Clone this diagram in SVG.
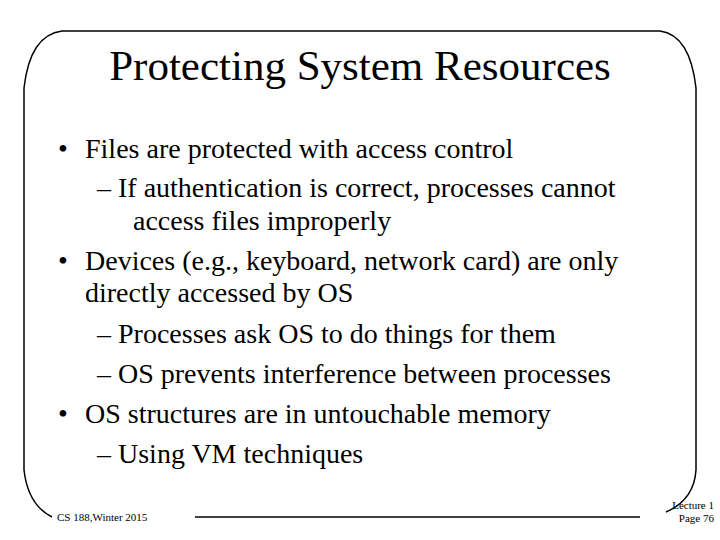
<svg xmlns="http://www.w3.org/2000/svg" width="720" height="540" viewBox="0 0 720 540">
<style>
.b{font-size:28px}
.f{font-size:11px}
</style>
<rect width="720" height="540" fill="#fff"/>
<g fill="none" stroke="#000" stroke-width="1.5">
<path d="M24,470 L24,88 Q30,35 62,31 L660,31 Q690,35 696,88 L696,470 Q694,500 666,512"/>
<path d="M24,470 Q28,505 52,517"/>
<path d="M195,517 L640,517"/>
</g>
<g font-family="Liberation Serif, Times New Roman, DejaVu Serif, serif" fill="#000">
<text x="360" y="80" font-size="43" text-anchor="middle">Protecting System Resources</text>
<g class="b">
<text x="58" y="158">•</text><text x="85" y="158">Files are protected with access control</text>
<text x="97" y="197">– If authentication is correct, processes cannot</text>
<text x="133" y="230">access files improperly</text>
<text x="58" y="270">•</text><text x="85" y="270">Devices (e.g., keyboard, network card) are only</text>
<text x="85" y="302">directly accessed by OS</text>
<text x="97" y="343">– Processes ask OS to do things for them</text>
<text x="97" y="383">– OS prevents interference between processes</text>
<text x="58" y="423">•</text><text x="85" y="423">OS structures are in untouchable memory</text>
<text x="97" y="463">– Using VM techniques</text>
</g>
<text class="f" x="57" y="521">CS 188,Winter 2015</text>
<text class="f" x="714" y="509" text-anchor="end">Lecture 1</text>
<text class="f" x="714" y="522" text-anchor="end">Page 76</text>
</g>
</svg>
